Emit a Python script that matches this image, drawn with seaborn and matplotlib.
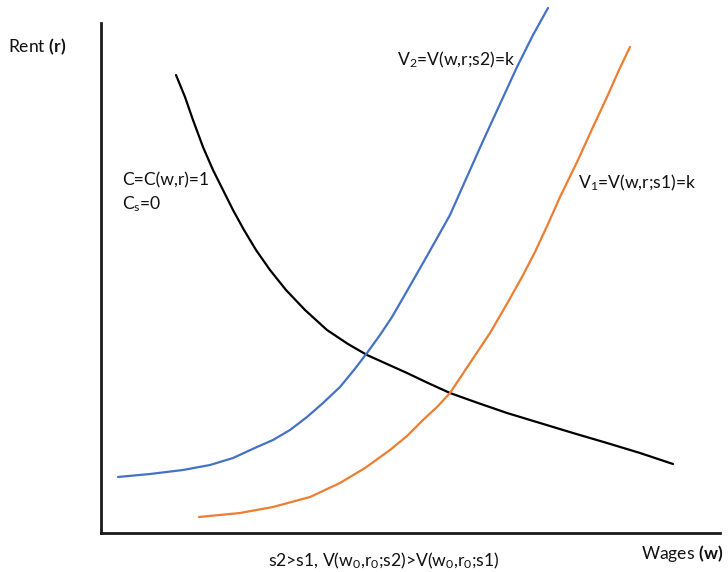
import matplotlib
matplotlib.use("Agg")
import matplotlib.pyplot as plt
import seaborn as sns
import pandas as pd

sns.set_theme(style="white")
plt.rcParams["font.family"] = ["Lato", "DejaVu Sans"]
plt.rcParams["mathtext.fontset"] = "custom"
plt.rcParams["mathtext.rm"] = "Lato"
plt.rcParams["mathtext.it"] = "Lato:italic"
plt.rcParams["mathtext.bf"] = "Lato:bold"

# Isocost curve C(w,r)=1 (wage, rent)
cost_w = [75, 84, 92, 102, 112, 122, 132, 143, 155, 169, 185, 204, 226, 247,
          266, 286, 306, 327, 349, 377, 406, 439, 472, 506, 539, 572]
cost_r = [458, 436, 413, 386, 363, 343, 323, 303, 283, 263, 243, 223, 203, 189,
          178, 169, 160, 150, 140, 130, 120, 110, 100, 90, 80, 69]

# Indifference curve V(w,r;s2)=k
v2_w = [17, 49, 82, 109, 132, 156, 172, 189, 206, 222, 239, 253, 266, 279,
        291, 302, 314, 326, 349, 365, 382, 399, 416, 432, 447]
v2_r = [56, 59, 63, 68, 75, 86, 93, 103, 116, 130, 146, 163, 180, 198,
        216, 235, 256, 277, 318, 354, 392, 429, 466, 498, 525]

# Indifference curve V(w,r;s1)=k
v1_w = [98, 139, 172, 209, 239, 264, 289, 306, 322, 336, 349, 369, 389,
        407, 421, 434, 447, 459, 477, 492, 506, 518, 529]
v1_r = [16, 20, 26, 36, 50, 65, 83, 97, 113, 126, 140, 170, 200,
        231, 256, 281, 309, 336, 373, 406, 436, 463, 486]

fig = plt.figure(figsize=(7.28, 5.72), dpi=100)
W, H = 728, 572
x0, y0, x1, y1 = 101, 533, 720, 23
ax = fig.add_axes([x0 / W, (H - y0) / H, (x1 - x0) / W, (y0 - y1) / H])

curves = [
    (cost_w, cost_r, "#000000"),
    (v2_w, v2_r, "#4472C4"),
    (v1_w, v1_r, "#ED7D31"),
]
for ws, rs, col in curves:
    df = pd.DataFrame({"w": ws, "r": rs})
    sns.lineplot(data=df, x="w", y="r", sort=False, color=col, lw=1.6,
                 ax=ax, clip_on=False)

ax.set_xlim(0, x1 - x0)
ax.set_ylim(0, y0 - y1)
ax.set_xticks([])
ax.set_yticks([])
ax.set_xlabel("")
ax.set_ylabel("")
for side in ("top", "right"):
    ax.spines[side].set_visible(False)
for side in ("left", "bottom"):
    ax.spines[side].set_color("#1a1a1a")
    ax.spines[side].set_linewidth(2)

fs = 12.6


def put(px, py, s, **kw):
    fig.text(px / W, 1 - py / H, s, fontsize=fs, color="#111111",
             va="center", ha="left", **kw)


put(8, 47, r"Rent $\mathbf{(r)}$")
put(641, 553, r"Wages $\mathbf{(w)}$")
put(397, 60, r"V$_2$=V(w,r;s2)=k")
put(578, 183, r"V$_1$=V(w,r;s1)=k")
put(122, 180, "C=C(w,r)=1")
put(122, 204, r"C$_\mathrm{s}$=0")
put(268, 561, r"s2>s1, V(w$_0$,r$_0$;s2)>V(w$_0$,r$_0$;s1)")

fig.savefig("out.png", dpi=100, facecolor="white")
